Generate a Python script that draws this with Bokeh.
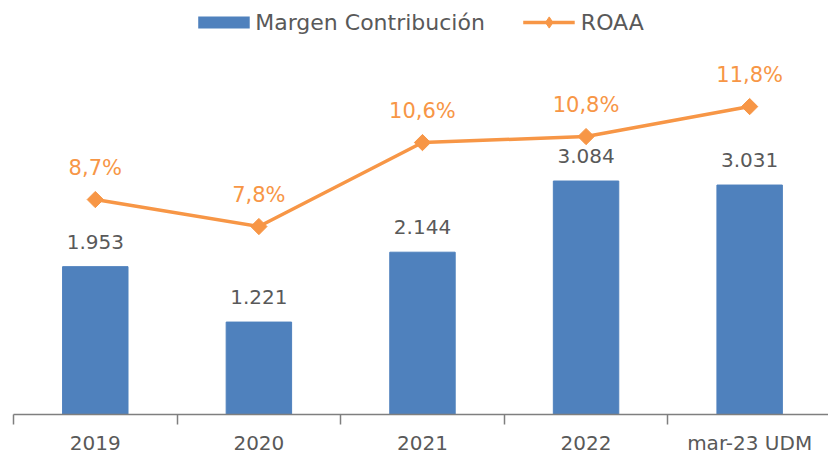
import math
from bokeh.plotting import figure
from bokeh.models import Range1d, FixedTicker, ColumnDataSource, Legend, LegendItem, CustomJSTickFormatter
from bokeh.embed import file_html
from bokeh.resources import INLINE
from bokeh.core.properties import value

categories = ["2019", "2020", "2021", "2022", "mar-23 UDM"]
margen = [1953, 1221, 2144, 3084, 3031]
roaa = [8.7, 7.8, 10.6, 10.8, 11.8]
margen_labels = ["1.953", "1.221", "2.144", "3.084", "3.031"]
roaa_labels = ["8,7%", "7,8%", "10,6%", "10,8%", "11,8%"]

FONT = "DejaVu Sans"
GRAY = "#595959"
BLUE = "#4F81BD"
ORANGE = "#F79646"

xs = list(range(len(categories)))
src = ColumnDataSource(dict(x=xs, m=margen, r=roaa, ml=margen_labels, rl=roaa_labels))

p = figure(width=828, height=458, output_backend="svg", toolbar_location=None,
           x_range=Range1d(-0.5, 4.482), y_range=Range1d(0, 5363),
           min_border_left=13, min_border_right=0, min_border_top=8, min_border_bottom=44)
p.extra_y_ranges = {"r": Range1d(1.533, 15.07)}
p.outline_line_color = None
p.xgrid.visible = False
p.ygrid.visible = False
p.yaxis.visible = False

bars = p.vbar(x="x", top="m", width=0.4, source=src, color=BLUE)
line = p.line(x="x", y="r", source=src, y_range_name="r", line_color=ORANGE, line_width=3.5)
pts = p.scatter(x="x", y="r", source=src, y_range_name="r", marker="square", angle=math.pi / 4,
                size=11.5, fill_color=ORANGE, line_color=ORANGE)

# legend-only swatches placed outside the visible ranges
off = ColumnDataSource(dict(x=[-10, -9], y=[-1000, -1000]))
bar_swatch = p.line(x="x", y="y", source=off, line_color=BLUE, line_width=12)
roaa_marker = p.scatter(x="x", y="y", source=off, marker="diamond", size=16,
                        fill_color=ORANGE, line_color=ORANGE)

p.text(x="x", y="m", text="ml", source=src, text_align="center", text_baseline="alphabetic",
       y_offset=-25, text_font=value(FONT), text_font_size="20px", text_color=GRAY)
p.text(x="x", y="r", text="rl", source=src, y_range_name="r", text_align="center",
       text_baseline="alphabetic", y_offset=-32, text_font=value(FONT), text_font_size="21px",
       text_color=ORANGE)

ax = p.xaxis[0]
ax.ticker = FixedTicker(ticks=xs, minor_ticks=[i - 0.5 for i in range(len(categories) + 1)])
ax.formatter = CustomJSTickFormatter(args=dict(labels=categories),
                                     code="return labels[Math.round(tick)] || '';")
ax.major_tick_out = 0
ax.major_tick_in = 0
ax.minor_tick_out = 10
ax.minor_tick_in = 0
ax.minor_tick_line_color = "#7f7f7f"
ax.minor_tick_line_width = 1.5
ax.axis_line_color = "#7f7f7f"
ax.axis_line_width = 1.5
ax.major_label_text_font = FONT
ax.major_label_text_font_size = "20px"
ax.major_label_text_color = GRAY
ax.major_label_standoff = 6

legend = Legend(items=[LegendItem(label="Margen Contribución", renderers=[bar_swatch]),
                       LegendItem(label="ROAA", renderers=[line, roaa_marker])],
                orientation="horizontal", location="top_center",
                label_text_font=FONT, label_text_font_size="22px", label_text_color=GRAY,
                glyph_width=52, glyph_height=28, label_standoff=6, spacing=38,
                padding=0, margin=0, border_line_color=None, background_fill_alpha=0)
p.add_layout(legend)

open("out.html", "w").write(file_html(p, INLINE))
